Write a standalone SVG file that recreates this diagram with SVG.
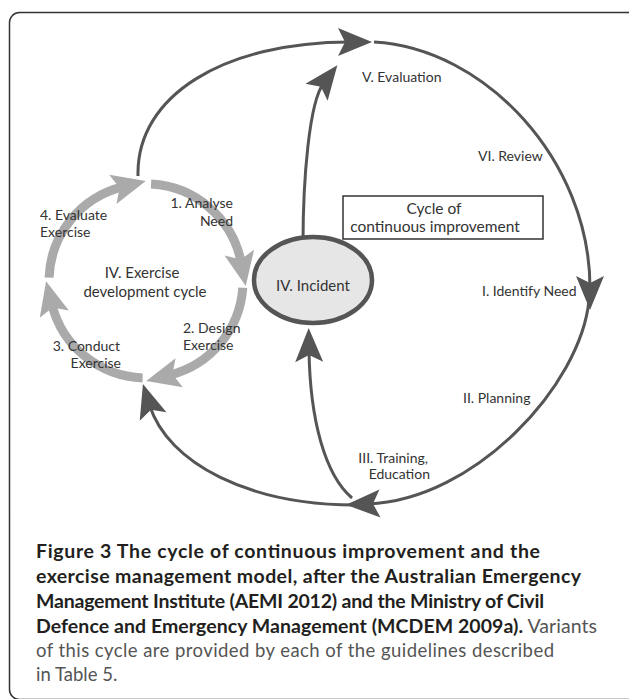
<svg xmlns="http://www.w3.org/2000/svg" width="629" height="699" viewBox="0 0 629 699">
<style>
.lbl{font-family:Lato,"Open Sans","Liberation Sans",sans-serif;font-size:14px;fill:#333}
.dk{fill:none;stroke:#555;stroke-width:3}
.gr{fill:none;stroke:#aaa;stroke-width:9}
.cap{font-family:Lato,"Liberation Sans",sans-serif;font-size:19.5px}
.b{font-weight:bold;fill:#231f20}
.r{fill:#555}
</style>
<defs>
<marker id="dark" markerUnits="userSpaceOnUse" markerWidth="40" markerHeight="40" refX="12" refY="0" orient="auto" overflow="visible">
<path d="M0,-14 L34,0 L0,14 L7,0 Z" fill="#555"/>
</marker>
<marker id="grey" markerUnits="userSpaceOnUse" markerWidth="40" markerHeight="40" refX="10" refY="0" orient="auto" overflow="visible">
<path d="M0,-15 L34,0 L0,15 L7,0 Z" fill="#aaa"/>
</marker>
</defs>
<rect x="9.5" y="12.5" width="640" height="687" rx="10" fill="#fff" stroke="#333" stroke-width="1.5"/>

<g id="connectors">
<path class="dk" d="M138,176 C136,95 225,42 350,42" marker-end="url(#dark)"/>
<path class="dk" d="M374,42 C485,48 590,160 590,288" marker-end="url(#dark)"/>
<path class="dk" d="M589,300 C581,385 475,500 368,504" marker-end="url(#dark)"/>
<path class="dk" d="M355,505 C250,505 168,464 149.5,405" marker-end="url(#dark)"/>
<path class="dk" d="M352,498 C325,475 310,420 309,350" marker-end="url(#dark)"/>
<path class="dk" d="M303,244 C303,180 309,102 323.9,82.7" marker-end="url(#dark)"/>
</g>

<g id="exercise-cycle">
<path class="gr" d="M151.1,184.1 A97,97 0 0 1 241.2,262.5" marker-end="url(#grey)"/>
<path class="gr" d="M242.8,287.8 A97,97 0 0 1 169.5,375.1" marker-end="url(#grey)"/>
<path class="gr" d="M142.6,377.9 A97,97 0 0 1 51.9,304.5" marker-end="url(#grey)"/>
<path class="gr" d="M49.1,277.6 A97,97 0 0 1 122.5,186.9" marker-end="url(#grey)"/>
<text class="lbl" x="142" y="278" text-anchor="middle" style="font-size:15px">IV. Exercise</text>
<text class="lbl" x="145" y="297" text-anchor="middle" style="font-size:15px">development cycle</text>
</g>

<g id="analyse">
<text class="lbl" x="233" y="208" text-anchor="end">1. Analyse</text>
<text class="lbl" x="233" y="226" text-anchor="end">Need</text>
</g>
<g id="design">
<text class="lbl" x="183" y="333">2. Design</text>
<text class="lbl" x="183" y="350">Exercise</text>
</g>
<g id="conduct">
<text class="lbl" x="120" y="351" text-anchor="end">3. Conduct</text>
<text class="lbl" x="121" y="368" text-anchor="end">Exercise</text>
</g>
<g id="evaluate">
<text class="lbl" x="40" y="220">4. Evaluate</text>
<text class="lbl" x="40" y="237">Exercise</text>
</g>

<g id="incident">
<ellipse cx="313" cy="280" rx="59" ry="43" fill="#e6e6e6" stroke="#555" stroke-width="4.5"/>
<text class="lbl" x="313" y="291" text-anchor="middle" style="font-size:15px">IV. Incident</text>
</g>

<g id="cycle-box">
<rect x="343" y="196" width="200" height="43" fill="#fff" stroke="#333" stroke-width="1.5"/>
<text class="lbl" x="434" y="214" text-anchor="middle" style="font-size:15.5px">Cycle of</text>
<text class="lbl" x="435" y="232" text-anchor="middle" style="font-size:15.5px">continuous improvement</text>
</g>

<g id="labels">
<text class="lbl" x="362" y="82">V. Evaluation</text>
<text class="lbl" x="478" y="161">VI. Review</text>
<text class="lbl" x="482" y="296">I. Identify Need</text>
<text class="lbl" x="463" y="403">II. Planning</text>
<text class="lbl" x="428" y="463" text-anchor="end">III. Training,</text>
<text class="lbl" x="430" y="479" text-anchor="end">Education</text>
</g>

<g id="caption" class="cap">
<text x="36" y="558" class="b" textLength="504" lengthAdjust="spacing">Figure 3 The cycle of continuous improvement and the</text>
<text x="36" y="583" class="b" textLength="545" lengthAdjust="spacing">exercise management model, after the Australian Emergency</text>
<text x="36" y="608" class="b" textLength="508" lengthAdjust="spacing">Management Institute (AEMI 2012) and the Ministry of Civil</text>
<text x="36" y="633" textLength="561" lengthAdjust="spacing"><tspan class="b">Defence and Emergency Management (MCDEM 2009a).</tspan><tspan class="r"> Variants</tspan></text>
<text x="36" y="657" class="r" style="font-size:18.5px" textLength="518" lengthAdjust="spacing">of this cycle are provided by each of the guidelines described</text>
<text x="36" y="681" class="r" style="font-size:18.5px">in Table 5.</text>
</g>
</svg>
